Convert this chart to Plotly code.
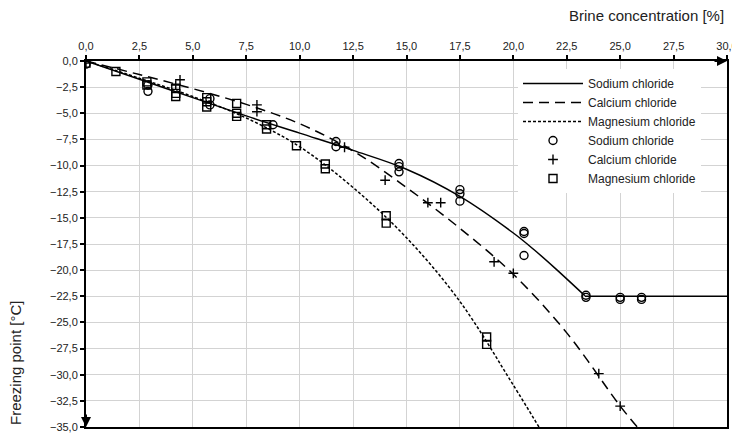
import plotly.graph_objects as go

# ---- Data ----
# Fitted curves (concentration %, freezing point °C)
nacl_curve_x = [0, 2.5, 5, 7.5, 10, 12.5, 15, 17.5, 20, 21, 22, 23.35]
nacl_curve_y = [0, -1.75, -3.5, -5.25, -6.9, -8.55, -10.35, -12.95, -16.45, -18.1, -19.9, -22.45]
nacl_plateau_x = [23.35, 30]
nacl_plateau_y = [-22.5, -22.5]

cacl_curve_x = [0, 2.5, 5, 7.5, 10, 12.5, 15, 17.5, 20, 22.5, 25, 25.8]
cacl_curve_y = [0, -1.3, -2.65, -4.15, -6.0, -8.6, -12.1, -16.0, -20.4, -26.0, -33.0, -35.0]

mgcl_curve_x = [0, 2.5, 5, 7.5, 10, 12.5, 15, 17.5, 20, 21.2]
mgcl_curve_y = [0, -1.65, -3.4, -5.45, -8.2, -12.1, -16.9, -23.0, -31.0, -35.0]

# Measured points
nacl_x = [0, 2.9, 2.9, 5.8, 5.8, 8.75, 11.7, 11.7, 14.65, 14.65, 14.65,
          17.5, 17.5, 17.5, 20.5, 20.5, 20.5, 23.4, 23.4, 25.0, 25.0, 26.0, 26.0]
nacl_y = [-0.3, -2.3, -2.9, -3.6, -4.2, -6.1, -7.7, -8.2, -9.8, -10.1, -10.6,
          -12.3, -12.7, -13.4, -16.3, -16.5, -18.6, -22.4, -22.6, -22.6, -22.8, -22.6, -22.8]

cacl_x = [0, 4.2, 4.4, 8.0, 8.0, 12.1, 14.0, 16.0, 16.6, 19.1, 20.0, 24.0, 25.0]
cacl_y = [-0.2, -2.3, -1.8, -4.2, -4.85, -8.25, -11.4, -13.55, -13.55, -19.2, -20.3, -29.9, -33.0]

mgcl_x = [0, 1.4, 2.85, 2.85, 4.2, 4.2, 4.2, 5.65, 5.65, 5.65, 7.05, 7.05, 7.05,
          8.45, 8.45, 9.85, 11.2, 11.2, 14.05, 14.05, 18.75, 18.75]
mgcl_y = [-0.2, -1.0, -2.0, -2.3, -2.6, -3.1, -3.4, -3.5, -3.9, -4.4, -4.05, -5.0, -5.3,
          -6.1, -6.5, -8.1, -9.85, -10.3, -14.8, -15.5, -26.4, -27.1]

names = ["Sodium chloride", "Calcium chloride", "Magnesium chloride"]
x_ticks = [i * 2.5 for i in range(13)]
y_ticks = [-i * 2.5 for i in range(15)]

FONT = "Liberation Sans, Arial, sans-serif"
# The page body has an 8px margin, so the figure is sized/positioned to compensate.
W, H = 732, 428
L, T, R, B = 78, 53, 13, 9
PW, PH = W - L - R, H - T - B

fig = go.Figure()

fig.add_trace(go.Scatter(x=nacl_curve_x, y=nacl_curve_y, mode="lines", name=names[0],
                         legendgroup="nacl", line=dict(color="black", width=1.5, shape="spline", smoothing=1.0)))
fig.add_trace(go.Scatter(x=nacl_plateau_x, y=nacl_plateau_y, mode="lines", showlegend=False,
                         legendgroup="nacl", line=dict(color="black", width=1.5)))
fig.add_trace(go.Scatter(x=cacl_curve_x, y=cacl_curve_y, mode="lines", name=names[1],
                         line=dict(color="black", width=1.5, dash="10px,6px", shape="spline", smoothing=1.0)))
fig.add_trace(go.Scatter(x=mgcl_curve_x, y=mgcl_curve_y, mode="lines", name=names[2],
                         line=dict(color="black", width=1.5, dash="3px,2px", shape="spline", smoothing=1.0)))

fig.add_trace(go.Scatter(x=nacl_x, y=nacl_y, mode="markers", name=names[0],
                         marker=dict(symbol="circle-open", size=8, color="black", line=dict(width=1.4))))
fig.add_trace(go.Scatter(x=cacl_x, y=cacl_y, mode="markers", name=names[1],
                         marker=dict(symbol="cross-thin-open", size=7, color="black", line=dict(width=1.4))))
fig.add_trace(go.Scatter(x=mgcl_x, y=mgcl_y, mode="markers", name=names[2],
                         marker=dict(symbol="square-open", size=8, color="black", line=dict(width=1.4))))

fig.update_layout(
    width=W, height=H,
    margin=dict(l=L, r=R, t=T, b=B, autoexpand=False),
    paper_bgcolor="white", plot_bgcolor="white",
    separators=", ",
    font=dict(family=FONT, size=11, color="#222"),
    showlegend=True,
    legend=dict(x=(510 - L) / PW, y=1 - (61 - T) / PH, xanchor="left", yanchor="top",
                bgcolor="white", borderwidth=0, font=dict(size=12, color="#222"),
                tracegroupgap=0, itemwidth=60),
    xaxis=dict(range=[0, 30], side="top", tickvals=x_ticks, tickformat=".1f", automargin=False,
               showgrid=True, gridcolor="#d3d3d3", gridwidth=1, zeroline=False,
               showline=True, linecolor="black", linewidth=2, mirror=True,
               ticks="outside", ticklen=4, tickcolor="black", tickwidth=1.5,
               ticklabelstandoff=1),
    yaxis=dict(range=[-35, 0], tickvals=y_ticks, tickformat=".1f", automargin=False,
               showgrid=True, gridcolor="#d3d3d3", gridwidth=1, zeroline=False,
               showline=True, linecolor="black", linewidth=2, mirror=True,
               ticks="outside", ticklen=4, tickcolor="black", tickwidth=1.5),
)

fig.add_annotation(x=30, y=0, xref="x", yref="y", ax=-14, ay=0, showarrow=True,
                   arrowhead=2, arrowsize=1, arrowwidth=2, arrowcolor="black", text="")
fig.add_annotation(x=0, y=-35, xref="x", yref="y", ax=0, ay=-14, showarrow=True,
                   arrowhead=2, arrowsize=1, arrowwidth=2, arrowcolor="black", text="")

fig.add_annotation(text="Brine concentration [%]", xref="paper", yref="paper",
                   x=(718 - L) / PW, y=1 + (T - 7) / PH, xanchor="right", yanchor="middle",
                   showarrow=False, font=dict(size=15, color="#222", family=FONT))
fig.add_annotation(text="Freezing point [°C]", xref="paper", yref="paper",
                   x=(7 - L) / PW, y=0, xanchor="center", yanchor="bottom", textangle=-90,
                   showarrow=False, font=dict(size=15, color="#222", family=FONT))

fig.write_html("out.html")
